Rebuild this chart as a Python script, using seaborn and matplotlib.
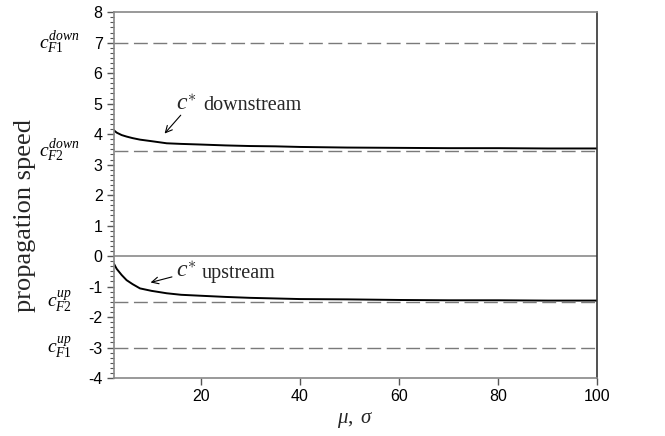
import numpy as np
import pandas as pd
import seaborn as sns
import matplotlib
matplotlib.use("Agg")
import matplotlib.pyplot as plt
from matplotlib.ticker import AutoMinorLocator

# Data
mu = [2.4, 3, 4, 5, 6.2, 7.7, 10, 13.1, 16, 19.8, 25, 29.9, 35, 40, 49.5, 60, 70, 80, 90, 100]
c_down = [4.13, 4.05, 3.97, 3.92, 3.87, 3.82, 3.77, 3.70, 3.68, 3.66, 3.63, 3.61, 3.60, 3.58, 3.56, 3.55, 3.54, 3.54, 3.53, 3.53]
c_up = [-0.24, -0.42, -0.62, -0.79, -0.92, -1.06, -1.14, -1.22, -1.27, -1.30, -1.34, -1.37, -1.39, -1.41, -1.42, -1.44, -1.45, -1.45, -1.46, -1.46]

ref_values = [7.0, 3.45, -1.5, -3.0]
ref_labels = [r"$c_{F1}^{down}$", r"$c_{F2}^{down}$", r"$c_{F2}^{up}$", r"$c_{F1}^{up}$"]
yticks = [-4, -3, -2, -1, 0, 1, 2, 3, 4, 5, 6, 7, 8]
xticks = [20, 40, 60, 80, 100]

sns.set_theme(style="white")
plt.rcParams['font.family'] = ['Liberation Sans', 'DejaVu Sans']
plt.rcParams['axes.unicode_minus'] = False
plt.rcParams['mathtext.fontset'] = 'custom'
plt.rcParams['mathtext.rm'] = 'Liberation Serif'
plt.rcParams['mathtext.it'] = 'Liberation Serif:italic'
plt.rcParams['mathtext.bf'] = 'Liberation Serif:bold:italic'

fig = plt.figure(figsize=(6.65, 4.36), dpi=100)
ax = fig.add_axes([0.171, 0.133, 0.727, 0.839])

df = pd.DataFrame({"mu": mu + mu, "c": c_down + c_up,
                   "kind": ["down"] * len(mu) + ["up"] * len(mu)})
sns.lineplot(data=df, x="mu", y="c", units="kind", estimator=None,
             color="black", lw=1.4, ax=ax, legend=False)

for v in ref_values:
    ax.axhline(v, color="#7a7a7a", lw=1.0, ls=(0, (10, 4)))
ax.axhline(0, color="#8a8a8a", lw=1.2)

ax.set_xlim(2.4, 100)
ax.set_ylim(-4, 8)
ax.set_xticks(xticks)
ax.set_yticks(yticks)
ax.yaxis.set_minor_locator(AutoMinorLocator(6))
ax.tick_params(axis="both", which="major", direction="out", length=5, width=1,
               color="#555555", labelsize=11.5, labelcolor="black", pad=3)
ax.tick_params(axis="y", which="minor", direction="out", length=3, width=0.8,
               color="#555555", left=True)
ax.tick_params(axis="x", which="both", bottom=True)
ax.tick_params(axis="y", left=True)

for s in ["left", "bottom", "top"]:
    ax.spines[s].set_color("#888888")
    ax.spines[s].set_linewidth(1.2)
ax.spines["right"].set_color("#333333")
ax.spines["right"].set_linewidth(1.2)

for v, lab in zip(ref_values, ref_labels):
    ax.text(-0.112, v, lab, transform=ax.get_yaxis_transform(), ha="center",
            va="center", fontsize=14, color="black")

ax.set_xlabel(r"$\mu,\ \sigma$", fontsize=15, labelpad=4)
ax.set_ylabel("propagation speed", fontsize=19, family="Liberation Serif")
ax.yaxis.set_label_coords(-0.16, 0.445)

ax.annotate("", xy=(12.3, 3.95), xytext=(16.3, 4.69),
            arrowprops=dict(arrowstyle="->", color="black", lw=0.8))
ax.text(17.0, 5.0, r"$c^{\ast}$", fontsize=17, ha="center", va="center")
ax.text(20.4, 4.95, "downstream", fontsize=14.5, family="Liberation Serif",
        ha="left", va="center")

ax.annotate("", xy=(9.3, -0.89), xytext=(14.7, -0.66),
            arrowprops=dict(arrowstyle="->", color="black", lw=0.8))
ax.text(17.0, -0.5, r"$c^{\ast}$", fontsize=17, ha="center", va="center")
ax.text(20.2, -0.58, "upstream", fontsize=14.5, family="Liberation Serif",
        ha="left", va="center")

fig.savefig("out.png", dpi=100)
